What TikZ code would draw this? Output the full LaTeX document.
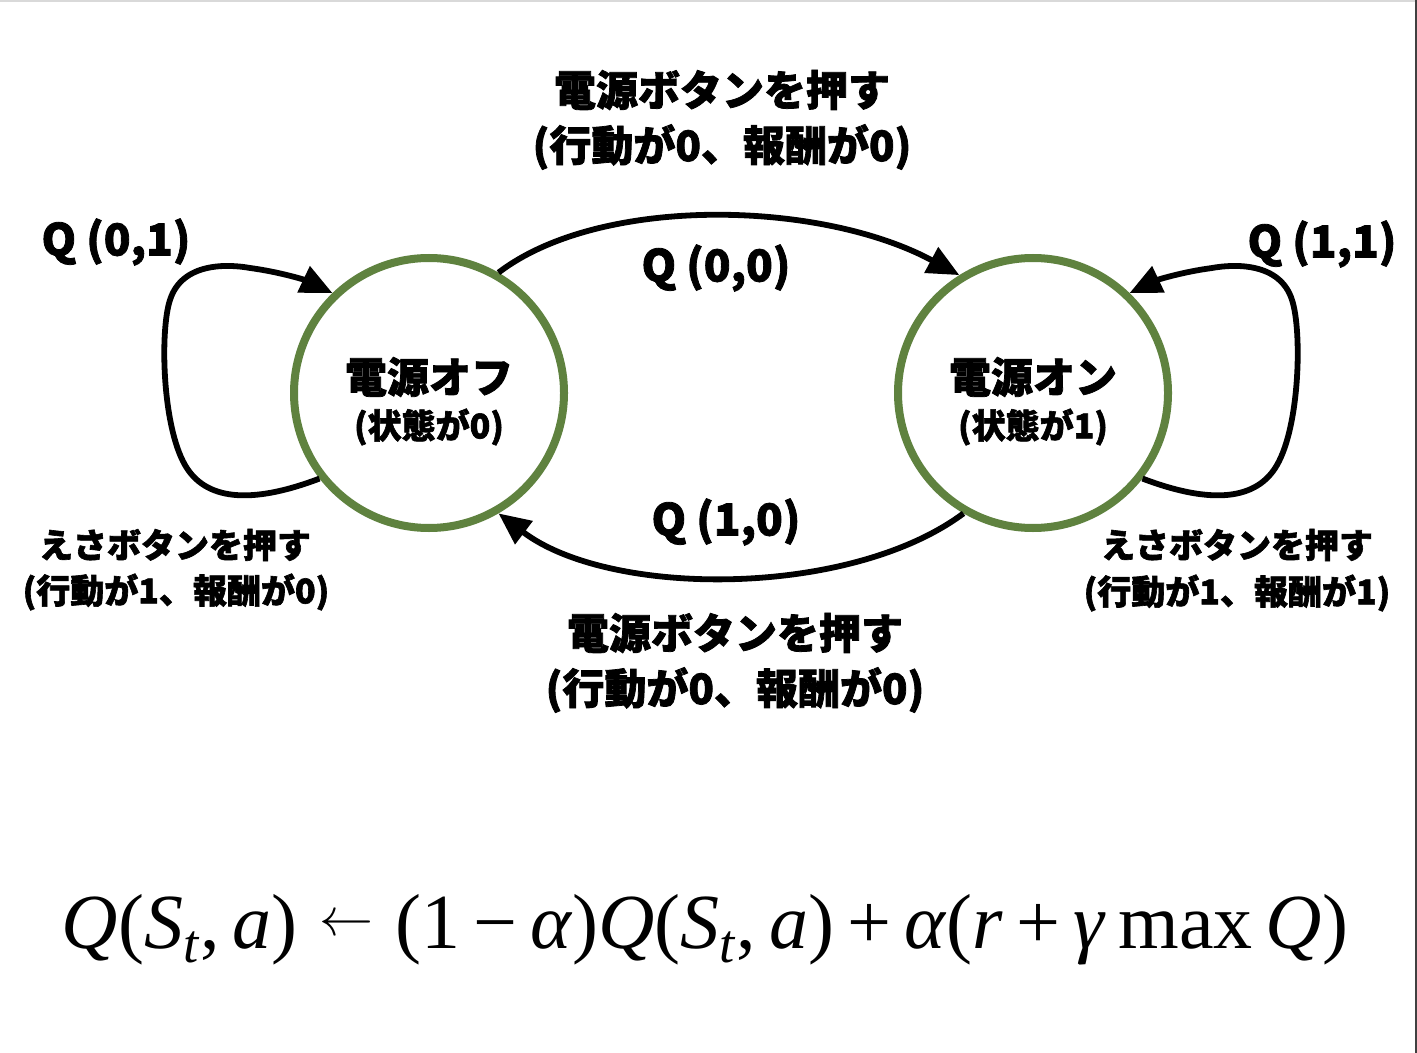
\documentclass[tikz,border=0pt]{standalone}
\usepackage{fontspec}
\usepackage{graphicx}
\usetikzlibrary{arrows.meta}
\newfontfamily\jp{Noto Sans CJK JP}[BoldFeatures={FakeBold=1.8}]
\newfontfamily\tms{Liberation Serif}
\definecolor{stategreen}{HTML}{5F823F}
\begin{document}
\begin{tikzpicture}[x=0.5pt,y=-0.5pt,
  state/.style={circle,draw=stategreen,line width=4pt,minimum size=135pt,inner sep=0pt,fill=white},
  conn/.style={line width=2.9pt,-{Triangle[length=16pt,width=14pt]}},
  big/.style={font=\jp\bfseries\fontsize{21}{25}\selectfont,inner sep=0pt},
  mid/.style={font=\jp\bfseries\fontsize{17}{20}\selectfont,inner sep=0pt},
  qlab/.style={font=\jp\bfseries\fontsize{22}{26}\selectfont,inner sep=0pt}]
\useasboundingbox (0,0) rectangle (1417,1053);
\fill[white] (0,0) rectangle (1417,1053);
\draw[black!15,line width=1pt] (0,1) -- (1417,1);
\draw[black!75,line width=1.2pt] (1416,0) -- (1416,1053);

\node[state] (off) at (429,393) {};
\node[state] (on) at (1033,393) {};

\node[big] (offt1) at (429,377) {電源オフ};
\node[mid] (offt2) at (429,427) {(状態が0)};
\node[big] (ont1) at (1033,377) {電源オン};
\node[mid] (ont2) at (1033,427) {(状態が1)};

% top arc: off -> on
\draw[conn] (off.60) .. controls (600,195) and (820,200) .. (on.122);
% bottom arc: on -> off
\draw[conn] (on.240) .. controls (850,598) and (610,598) .. (off.300);

% left self loop
\draw[conn] (off.218) .. controls (250,505) and (205,500) .. (185,465)
  .. controls (162,425) and (160,330) .. (170,300)
  .. controls (182,262) and (228,264) .. (250,268)
  .. controls (280,272) and (305,280) .. (off.134);
% right self loop
\draw[conn] (on.322) .. controls (1212,505) and (1257,500) .. (1277,465)
  .. controls (1300,425) and (1302,330) .. (1292,300)
  .. controls (1280,262) and (1234,264) .. (1212,268)
  .. controls (1182,272) and (1157,280) .. (on.46);

% labels
\node[big] (toplab1) at (722,90) {電源ボタンを押す};
\node[big] (toplab2) at (722,147) {(行動が0、報酬が0)};
\node[big] (botlab1) at (735,633) {電源ボタンを押す};
\node[big] (botlab2) at (735,690) {(行動が0、報酬が0)};
\node[mid] (llab1) at (175,545) {えさボタンを押す};
\node[mid] (llab2) at (176,592) {(行動が1、報酬が0)};
\node[mid] (rlab1) at (1237,545) {えさボタンを押す};
\node[mid] (rlab2) at (1237,593) {(行動が1、報酬が1)};

\node[qlab] (q00) at (716,268) {Q (0,0)};
\node[qlab] (q10) at (726,522) {Q (1,0)};
\node[qlab] (q01) at (116,242) {Q (0,1)};
\node[qlab] (q11) at (1322,244) {Q (1,1)};

\node[font=\tms\fontsize{39}{43}\selectfont,inner sep=0pt] (formula) at (705,930)
 {\textit{Q}(\textit{S}\textsubscript{\textit{t}},\,\textit{a})\;\raisebox{0.17em}{\resizebox{27pt}{!}{$\leftarrow$}}\;(1\,−\,\textit{α})\textit{Q}(\textit{S}\textsubscript{\textit{t}},\,\textit{a})\,+\,\textit{α}(\textit{r}\,+\,\textit{γ}\,max\,\textit{Q})};
\end{tikzpicture}
\end{document}
